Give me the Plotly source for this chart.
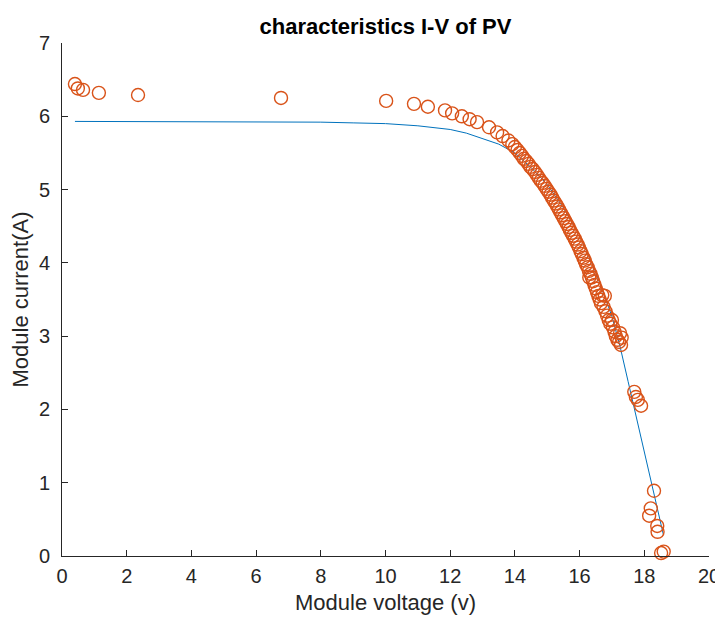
import plotly.graph_objects as go

# Measured data (scatter)
meas_v = [0.40, 0.49, 0.65, 1.14, 2.35, 6.77, 10.02, 10.88, 11.31, 11.84, 12.06, 12.36, 12.60, 12.83,
          13.20, 13.45, 13.62, 13.80, 13.92, 14.00, 14.08, 14.15, 14.22, 14.28, 14.35, 14.42, 14.48,
          14.55, 14.62, 14.68, 14.74, 14.80, 14.86, 14.92, 14.98, 15.04, 15.10, 15.15, 15.20, 15.26,
          15.31, 15.36, 15.41, 15.46, 15.51, 15.56, 15.61, 15.66, 15.70, 15.75, 15.80, 15.85, 15.89,
          15.94, 15.98, 16.03, 16.07, 16.12, 16.16, 16.20, 16.25, 16.30, 16.29, 16.34, 16.38, 16.42,
          16.46, 16.50, 16.54, 16.58, 16.62, 16.66, 16.70, 16.78, 16.74, 16.80, 16.85, 16.90, 16.95,
          17.00, 17.03, 17.08, 17.12, 17.17, 17.22, 17.28, 17.25, 17.30,
          17.69, 17.74, 17.80, 17.90, 18.30, 18.20, 18.15, 18.40, 18.41, 18.52, 18.60]
meas_i = [6.44, 6.38, 6.36, 6.32, 6.29, 6.25, 6.21, 6.17, 6.13, 6.08, 6.04, 6.00, 5.96, 5.92,
          5.85, 5.78, 5.73, 5.67, 5.62, 5.58, 5.54, 5.50, 5.46, 5.42, 5.39, 5.35, 5.31,
          5.28, 5.24, 5.20, 5.16, 5.12, 5.09, 5.05, 5.01, 4.97, 4.93, 4.89, 4.85, 4.81,
          4.77, 4.73, 4.69, 4.65, 4.61, 4.57, 4.53, 4.49, 4.45, 4.41, 4.37, 4.33, 4.29,
          4.25, 4.21, 4.16, 4.12, 4.07, 4.03, 3.98, 3.94, 3.80, 3.89, 3.85, 3.80, 3.75,
          3.70, 3.65, 3.60, 3.55, 3.50, 3.45, 3.56, 3.55, 3.40, 3.34, 3.28, 3.22, 3.17,
          3.22, 3.12, 3.06, 3.00, 2.95, 2.92, 2.88, 3.04, 2.98,
          2.24, 2.17, 2.13, 2.05, 0.89, 0.65, 0.55, 0.41, 0.33, 0.04, 0.06]

# Model curve (line)
model_v = [0.40, 2, 4, 6, 8, 9, 10, 11, 11.5, 12, 12.5, 13, 13.5, 14, 14.5, 15, 15.5, 16, 16.5, 17,
           17.25, 17.5, 18, 18.59]
model_i = [5.93, 5.93, 5.93, 5.93, 5.92, 5.91, 5.90, 5.87, 5.85, 5.82, 5.77, 5.70, 5.62, 5.50, 5.30,
           5.07, 4.75, 4.38, 3.87, 3.27, 2.86, 2.38, 1.42, 0.29]

x_ticks = list(range(0, 21, 2))
y_ticks = list(range(0, 8, 1))

font_family = "Liberation Sans, Arial, sans-serif"
axis_color = "#262626"

# The page body adds an 8px offset; the figure size compensates for it.
W, H = 715, 609

fig = go.Figure()
fig.add_trace(go.Scatter(x=model_v, y=model_i, mode="lines",
                         line=dict(color="#0072BD", width=1), showlegend=False))
fig.add_trace(go.Scatter(x=meas_v, y=meas_i, mode="markers", cliponaxis=False,
                         marker=dict(symbol="circle-open", size=13, color="#D95319",
                                     line=dict(width=1.4, color="#D95319")),
                         showlegend=False))

fig.update_layout(
    width=W, height=H,
    paper_bgcolor="white", plot_bgcolor="white",
    margin=dict(l=54, r=14, t=35, b=61, autoexpand=False),
    font=dict(family=font_family, color=axis_color),
    title=dict(text="<b>characteristics I-V of PV</b>", x=(54 + W - 14) / 2 / W, xanchor="center",
               y=1 - 18 / H, yanchor="middle", automargin=False,
               font=dict(size=22, color="black")),
)
fig.update_xaxes(range=[0, 20], tickvals=x_ticks, ticks="inside", ticklen=6, tickcolor=axis_color,
                 showline=True, linecolor=axis_color, linewidth=1, showgrid=False, zeroline=False,
                 automargin=False, ticklabelstandoff=2,
                 tickfont=dict(size=20, color=axis_color),
                 title=dict(text="Module voltage (v)", font=dict(size=22, color=axis_color), standoff=8))
fig.update_yaxes(range=[0, 7], tickvals=y_ticks, ticks="inside", ticklen=6, tickcolor=axis_color,
                 showline=True, linecolor=axis_color, linewidth=1, showgrid=False, zeroline=False,
                 automargin=False, ticklabelstandoff=7,
                 tickfont=dict(size=20, color=axis_color),
                 title=dict(text="Module current(A)", font=dict(size=22, color=axis_color), standoff=8))

fig.write_html("out.html")
